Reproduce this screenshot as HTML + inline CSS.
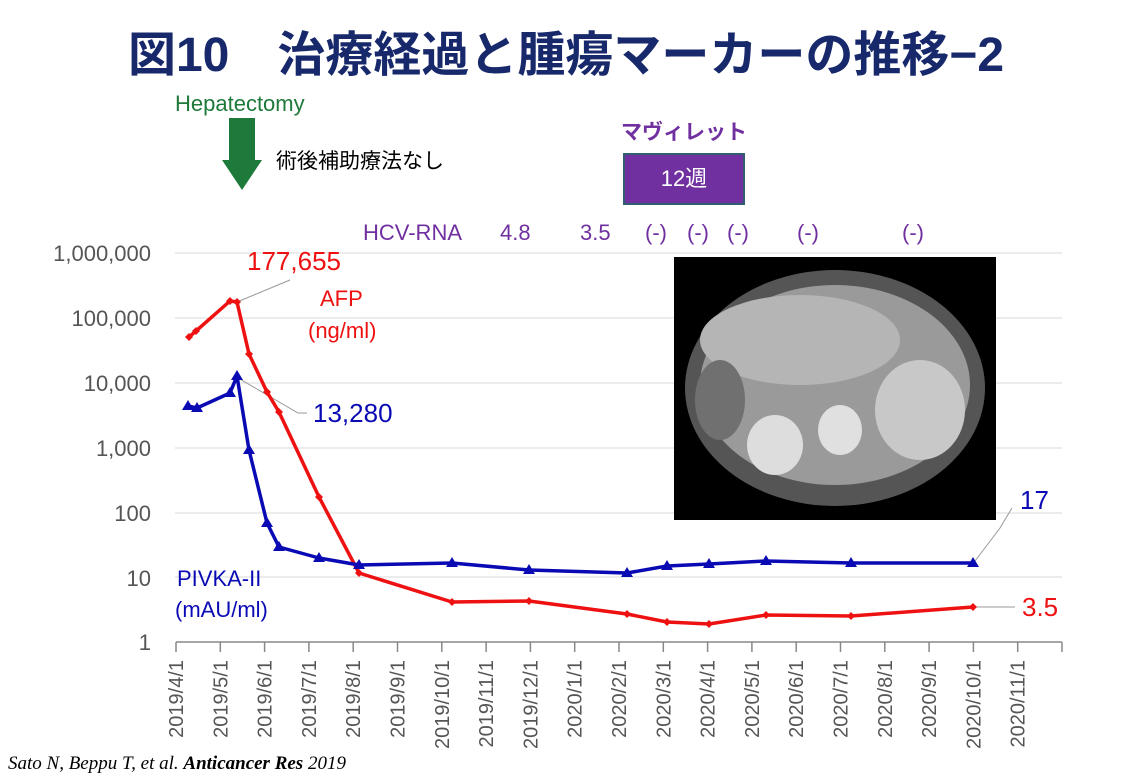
<!DOCTYPE html>
<html><head><meta charset="utf-8"><style>
body{margin:0;width:1132px;height:783px;background:#fff;overflow:hidden;position:relative;font-family:"Liberation Sans","Noto Sans CJK JP",sans-serif}
.a{position:absolute;white-space:nowrap}
</style></head><body>
<div class="a" style="left:0;width:1132px;top:15px;text-align:center;font-size:48px;font-weight:bold;color:#17286b;letter-spacing:0px">図10　治療経過と腫瘍マーカーの推移−2</div>
<div class="a" style="left:175px;top:91px;font-size:22px;color:#1e7a3a">Hepatectomy</div>
<div class="a" style="left:276px;top:145px;font-size:21px;color:#000">術後補助療法なし</div>
<div class="a" style="left:621px;top:116px;font-size:21px;font-weight:bold;color:#7030a0">マヴィレット</div>
<div class="a" style="left:623px;top:153px;width:118px;height:48px;background:#7030a0;border:2px solid #2f5f70;color:#fff;font-size:22px;text-align:center;line-height:48px">12週</div>
<svg class="a" style="left:0;top:0" width="1132" height="783">
<polygon points="229,118 255,118 255,160 262,160 242,190 222,160 229,160" fill="#1e7a3a"/>
<g font-size="22" fill="#7030a0">
<text x="363" y="240">HCV-RNA</text><text x="500" y="240">4.8</text><text x="580" y="240">3.5</text>
<text x="645" y="240">(-)</text><text x="687" y="240">(-)</text><text x="727" y="240">(-)</text><text x="797" y="240">(-)</text><text x="902" y="240">(-)</text></g>
<g stroke="#d9d9d9" stroke-width="1">
<line x1="175" x2="1062" y1="253" y2="253"/><line x1="175" x2="1062" y1="318" y2="318"/><line x1="175" x2="1062" y1="383" y2="383"/><line x1="175" x2="1062" y1="448" y2="448"/><line x1="175" x2="1062" y1="513" y2="513"/><line x1="175" x2="1062" y1="577" y2="577"/></g>
<g font-size="22" fill="#555" text-anchor="end">
<text x="151" y="261">1,000,000</text><text x="151" y="326">100,000</text><text x="151" y="391">10,000</text><text x="151" y="456">1,000</text><text x="151" y="521">100</text><text x="151" y="586">10</text><text x="151" y="650">1</text></g>
<line x1="176" x2="1062" y1="642" y2="642" stroke="#888" stroke-width="1.5"/>
<g stroke="#888" stroke-width="1.5" id="ticks"></g>
<g font-size="20" fill="#555" id="xl"></g>
<rect x="674" y="257" width="322" height="263" fill="#000"/>
<ellipse cx="835" cy="388" rx="150" ry="118" fill="#555"/>
<ellipse cx="835" cy="385" rx="135" ry="100" fill="#9a9a9a"/>
<ellipse cx="800" cy="340" rx="100" ry="45" fill="#b5b5b5"/>
<ellipse cx="920" cy="410" rx="45" ry="50" fill="#c8c8c8"/>
<ellipse cx="775" cy="445" rx="28" ry="30" fill="#ddd"/>
<ellipse cx="840" cy="430" rx="22" ry="25" fill="#e0e0e0"/>
<ellipse cx="720" cy="400" rx="25" ry="40" fill="#707070"/>
<g stroke="#999" stroke-width="1" fill="none">
<polyline points="237,302 290,280"/><polyline points="238,378 298,413 307,413"/>
<polyline points="975,607 1015,607"/><polyline points="975,561 1000,528 1012,508"/></g>
<polyline fill="none" stroke="#ee1111" stroke-width="3.5" stroke-linejoin="round" points="189,337 196,331 230,301 237,302 249,354 267,392 279,412 319,497 359,573 452,602 529,601 627,614 667,622 709,624 766,615 851,616 973,607"/>
<g fill="#ee1111" id="rd"></g>
<polyline fill="none" stroke="#0a0ab4" stroke-width="3.5" stroke-linejoin="round" points="188,406 197,408 230,393 237,376 249,450 267,523 279,547 319,558 359,565 452,563 529,570 627,573 667,566 709,564 766,561 851,563 973,563"/>
<g fill="#0a0ab4" id="bt"></g>
<g font-size="26" fill="#ee1111"><text x="247" y="270">177,655</text><text x="1022" y="616">3.5</text></g>
<g font-size="22" fill="#ee1111"><text x="320" y="306">AFP</text><text x="308" y="338">(ng/ml)</text></g>
<g font-size="26" fill="#0a0ab4"><text x="313" y="422">13,280</text><text x="1020" y="509">17</text></g>
<g font-size="22" fill="#0a0ab4"><text x="177" y="586">PIVKA-II</text><text x="175" y="617">(mAU/ml)</text></g>
</svg>
<div class="a" style="left:8px;top:753px;font-family:'Liberation Serif',serif;font-style:italic;font-size:19px">Sato N, Beppu T, et al. <b>Anticancer Res</b> 2019</div>
<script>
const ns="http://www.w3.org/2000/svg";
const t=document.getElementById("ticks"),xl=document.getElementById("xl");
const labs=[];for(let m=4;m<=12;m++)labs.push("2019/"+m+"/1");for(let m=1;m<=11;m++)labs.push("2020/"+m+"/1");
for(let i=0;i<=20;i++){const x=176+i*44.3;const l=document.createElementNS(ns,"line");l.setAttribute("x1",x);l.setAttribute("x2",x);l.setAttribute("y1",642);l.setAttribute("y2",652);t.appendChild(l);
if(i<20){const tx=document.createElementNS(ns,"text");const cx=x+7;tx.setAttribute("x",cx);tx.setAttribute("y",660);tx.setAttribute("text-anchor","end");tx.setAttribute("transform","rotate(-90 "+cx+" 660)");tx.textContent=labs[i];xl.appendChild(tx);}}
const r=[[189,337],[196,331],[230,301],[237,302],[249,354],[267,392],[279,412],[319,497],[359,573],[452,602],[529,601],[627,614],[667,622],[709,624],[766,615],[851,616],[973,607]];
const b=[[188,406],[197,408],[230,393],[237,376],[249,450],[267,523],[279,547],[319,558],[359,565],[452,563],[529,570],[627,573],[667,566],[709,564],[766,561],[851,563],[973,563]];
const rd=document.getElementById("rd"),bt=document.getElementById("bt");
r.forEach(([x,y])=>{const p=document.createElementNS(ns,"polygon");p.setAttribute("points",`${x},${y-4} ${x+4},${y} ${x},${y+4} ${x-4},${y}`);rd.appendChild(p);});
b.forEach(([x,y])=>{const p=document.createElementNS(ns,"polygon");p.setAttribute("points",`${x},${y-6} ${x+6},${y+4} ${x-6},${y+4}`);bt.appendChild(p);});
</script>
</body></html>
